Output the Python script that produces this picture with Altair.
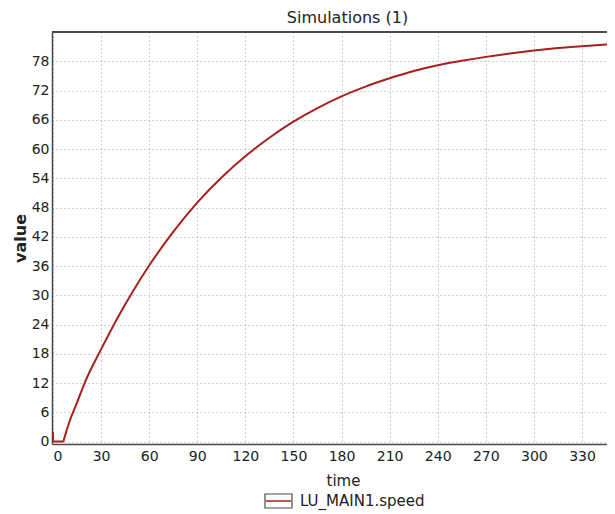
import altair as alt
import pandas as pd

# values
time = [0, 0.05, 6.5, 7.0, 10, 15, 20, 30, 40, 50, 60, 75, 90, 105, 120, 135,
        150, 165, 180, 195, 210, 225, 240, 255, 270, 285, 300, 315, 330, 345, 350]
speed = [2.0, 0.0, 0.0, 0.6, 3.8, 8.0, 12.2, 18.9, 25.2, 30.9, 36.1, 43.0, 49.0,
         54.1, 58.5, 62.3, 65.6, 68.4, 70.8, 72.8, 74.5, 76.0, 77.2, 78.1, 78.9,
         79.6, 80.2, 80.7, 81.1, 81.45, 81.55]
x_ticks = list(range(0, 331, 30))
y_ticks = list(range(0, 79, 6))
series_name = "LU_MAIN1.speed"

df = pd.DataFrame({"time": time, "value": speed})

W, H = 555, 412
FONT = "DejaVu Sans"
LINE = "#A8201E"
BORDER = "#4a4a4a"
TXT = "#222222"

x_scale = alt.Scale(domain=[-0.6, 345.6], nice=False, zero=False)
y_scale = alt.Scale(domain=[-0.5, 84], nice=False, zero=False)

line = alt.Chart(df).mark_line(color=LINE, strokeWidth=2, clip=True,
                               interpolate="monotone").encode(
    x=alt.X("time:Q", scale=x_scale,
            axis=alt.Axis(values=x_ticks, title="time", grid=True,
                          gridDash=[1, 3], gridColor="#a0a0a0",
                          ticks=False, labelPadding=5,
                          labelFont=FONT, labelFontSize=14, labelColor=TXT,
                          domainColor=BORDER, domainWidth=1.5,
                          titleFont=FONT, titleColor=TXT,
                          titleX=291, titleY=36, titleBaseline="middle",
                          titleFontWeight="normal", titleFontSize=15)),
    y=alt.Y("value:Q", scale=y_scale,
            axis=alt.Axis(values=y_ticks, title="value", grid=True,
                          gridDash=[1, 3], gridColor="#a0a0a0",
                          ticks=False, labelPadding=3,
                          labelFont=FONT, labelFontSize=14, labelColor=TXT,
                          domainColor=BORDER, domainWidth=1.5,
                          titleFont=FONT, titleColor=TXT,
                          titleFontWeight="bold", titleFontSize=16,
                          titlePadding=3)),
)

top_border = alt.Chart(df).mark_rule(color=BORDER, strokeWidth=1.5).encode(
    x=alt.value(0), x2=alt.value(W), y=alt.value(0)
)

leg_df = pd.DataFrame({"label": [series_name]})
leg_box = alt.Chart(leg_df).mark_rect(fill="white", stroke=BORDER,
                                      strokeWidth=1.2, clip=False).encode(
    x=alt.value(213), x2=alt.value(240), y=alt.value(462), y2=alt.value(476)
)
leg_line = alt.Chart(leg_df).mark_rule(color=LINE, strokeWidth=1.5, clip=False).encode(
    x=alt.value(214), x2=alt.value(239), y=alt.value(469)
)
leg_text = alt.Chart(leg_df).mark_text(align="left", baseline="middle",
                                       fontSize=15, font=FONT, color=TXT,
                                       clip=False).encode(
    x=alt.value(248), y=alt.value(469), text="label:N"
)

chart = alt.layer(line, top_border, leg_box, leg_line, leg_text).properties(
    width=W, height=H,
    title=alt.TitleParams("Simulations (1)", fontSize=16, fontWeight="normal",
                          font=FONT, color=TXT, anchor="middle",
                          dx=18, offset=5),
    autosize=alt.AutoSizeParams(type="none"),
    padding={"left": 44, "top": 24, "right": 0, "bottom": 70},
).configure_view(stroke=None).configure(background="white")

chart.save("out.html", embed_options={"renderer": "svg", "actions": False})
